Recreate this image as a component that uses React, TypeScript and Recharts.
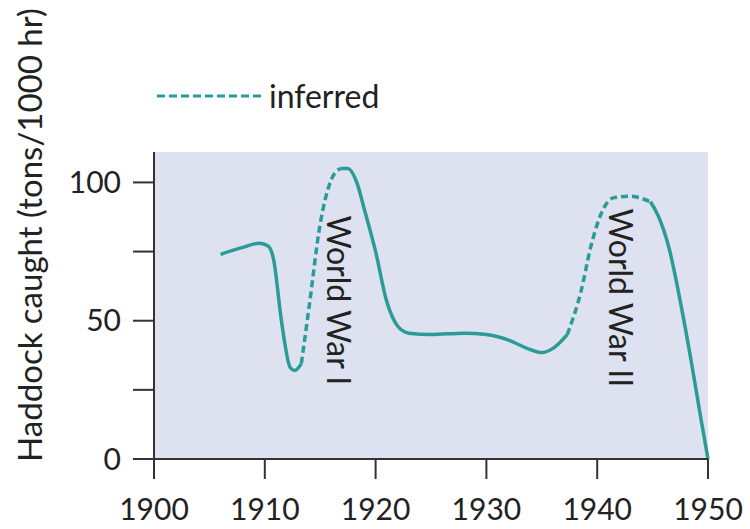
import React from 'react';
import { LineChart, Line, XAxis, YAxis, CartesianGrid, ReferenceDot } from 'recharts';

const TEAL = '#2a9c95';
const FONT = 'Lato, "Open Sans", sans-serif';

// observed catch, split in three solid pieces
const obs1Years = [1906, 1908, 1909.5, 1910.3, 1910.8, 1911.5, 1912.3, 1912.7, 1913.3];
const obs1Values = [74, 76.5, 78, 77, 72, 50, 33, 32, 34.5];
const obs2Years = [1916.8, 1917.5, 1918.3, 1919, 1920, 1921, 1922, 1923, 1925, 1928, 1930, 1932, 1934, 1935, 1936, 1937.3];
const obs2Values = [105, 105, 100, 90, 75, 57, 48, 45.5, 45, 45.5, 45, 43, 39.5, 38.5, 40, 45];
const obs3Years = [1944.8, 1945.5, 1946.5, 1947.5, 1948.5, 1949.3, 1950];
const obs3Values = [93, 88, 76, 57, 35, 16, 0];

// inferred (war years)
const inf1Years = [1913.3, 1914, 1915, 1916, 1916.8];
const inf1Values = [34.5, 55, 85, 101, 105];
const inf2Years = [1937.3, 1938.5, 1939.5, 1940.5, 1941.5, 1943, 1944.8];
const inf2Values = [45, 60, 78, 90, 94.5, 95, 93];

const xTicks = [1900, 1910, 1920, 1930, 1940, 1950];
const yTicks = [0, 25, 50, 75, 100];
const yLabels = [0, 50, 100];

const wars = [
  { year: 1916.6, top: 88, name: 'World War I' },
  { year: 1942.1, top: 90.6, name: 'World War II' },
];

const toRows = (years: number[], values: number[]) => years.map((year, i) => ({ year, v: values[i] }));

const WarLabel = ({ viewBox, name }: any) => {
  const x = viewBox.x + viewBox.width / 2;
  const y = viewBox.y + viewBox.height / 2;
  return (
    <text transform={`translate(${x - 11},${y}) rotate(90)`} textAnchor="start" fontSize={32} fontFamily={FONT} fill="#222">
      {name}
    </text>
  );
};

export default function App() {
  return (
    <div style={{ position: 'absolute', left: 0, top: 0, width: 750, height: 529, background: '#fff' }}>
      <div style={{ position: 'absolute', left: 155, top: 77, display: 'flex', alignItems: 'center', fontFamily: FONT, fontSize: 32, color: '#222' }}>
        <svg width={108} height={10}>
          <line x1={2} y1={5} x2={106} y2={5} stroke={TEAL} strokeWidth={3} strokeDasharray="8 4" />
        </svg>
        <span style={{ marginLeft: 6, lineHeight: '38px' }}>inferred</span>
      </div>
      <LineChart width={750} height={529} margin={{ top: 152, right: 42, bottom: 0, left: 0 }}>
        <CartesianGrid fill="#dde1f0" horizontal={false} vertical={false} stroke="none" />
        <XAxis
          type="number"
          dataKey="year"
          domain={[1900, 1950]}
          ticks={xTicks}
          height={70}
          tickSize={20}
          tickMargin={20}
          stroke="#333"
          strokeWidth={2}
          tickLine={{ stroke: '#333', strokeWidth: 2 }}
          tick={{ fontSize: 30, fontFamily: FONT, fill: '#222' }}
          allowDuplicatedCategory={false}
        />
        <YAxis
          type="number"
          domain={[0, 111]}
          ticks={yTicks}
          width={154}
          tickSize={21}
          tickMargin={12}
          stroke="#333"
          strokeWidth={2}
          tickLine={{ stroke: '#333', strokeWidth: 2 }}
          tickFormatter={(v: number) => (yLabels.includes(v) ? String(v) : '')}
          tick={{ fontSize: 30, fontFamily: FONT, fill: '#222' }}
          label={{
            content: () => (
              <text transform="translate(42,235) rotate(-90)" textAnchor="middle" fontSize={33} fontFamily={FONT} fill="#222">
                Haddock caught (tons/1000 hr)
              </text>
            ),
          }}
        />
        <Line data={toRows(obs1Years, obs1Values)} dataKey="v" type="monotone" stroke={TEAL} strokeWidth={3.5} dot={false} isAnimationActive={false} />
        <Line data={toRows(inf1Years, inf1Values)} dataKey="v" type="monotone" stroke={TEAL} strokeWidth={3.5} strokeDasharray="7 4" dot={false} isAnimationActive={false} />
        <Line data={toRows(obs2Years, obs2Values)} dataKey="v" type="monotone" stroke={TEAL} strokeWidth={3.5} dot={false} isAnimationActive={false} />
        <Line data={toRows(inf2Years, inf2Values)} dataKey="v" type="monotone" stroke={TEAL} strokeWidth={3.5} strokeDasharray="7 4" dot={false} isAnimationActive={false} />
        <Line data={toRows(obs3Years, obs3Values)} dataKey="v" type="monotone" stroke={TEAL} strokeWidth={3.5} dot={false} isAnimationActive={false} />
        {wars.map((w) => (
          <ReferenceDot key={w.name} x={w.year} y={w.top} r={0} stroke="none" fill="none" label={<WarLabel name={w.name} />} />
        ))}
      </LineChart>
    </div>
  );
}
